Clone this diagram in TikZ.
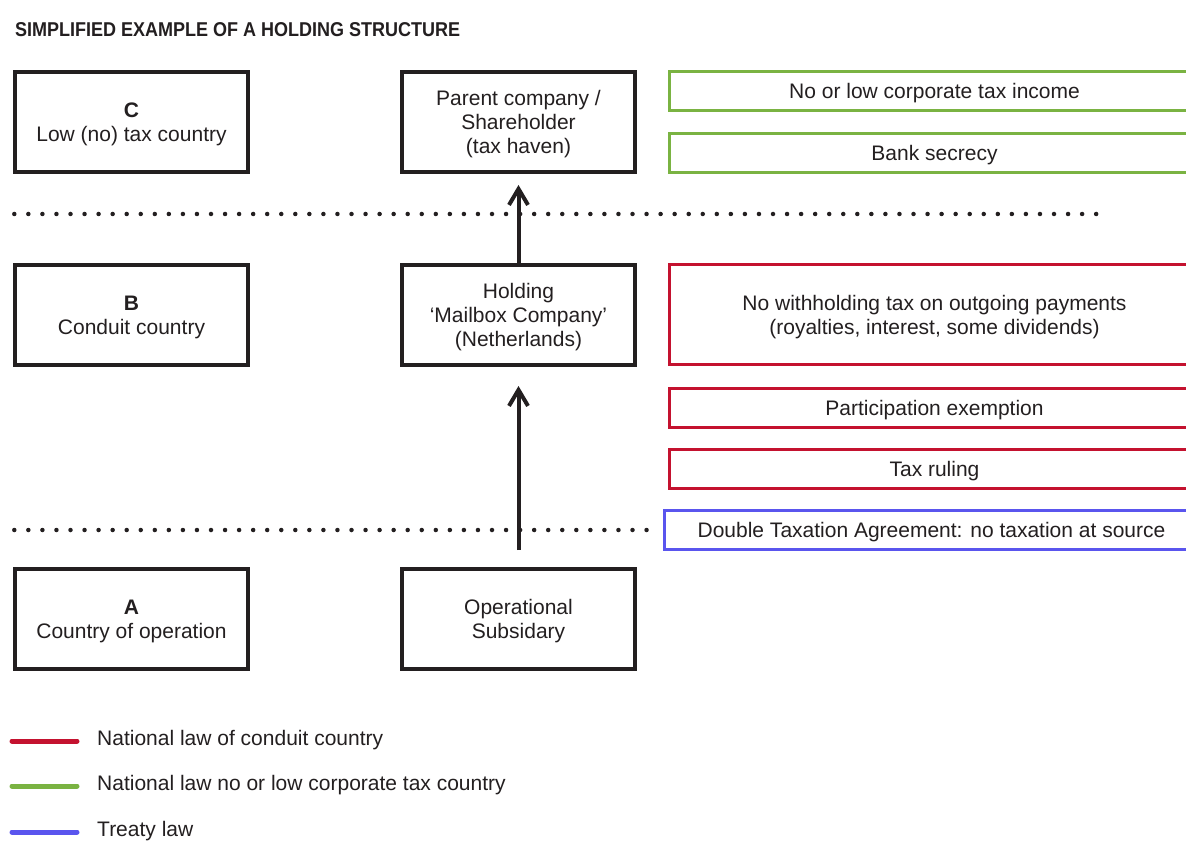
\documentclass[tikz,border=0pt]{standalone}
\usepackage{fontspec}
\setmainfont{Liberation Sans}
\newfontfamily\titlefont{Liberation Sans}[FakeStretch=0.9]
\usetikzlibrary{arrows.meta}
\definecolor{ink}{HTML}{231F20}
\definecolor{conduit}{HTML}{C4122F}
\definecolor{lowtax}{HTML}{7AB342}
\definecolor{treaty}{HTML}{5A55EE}
\tikzset{
  entity/.style={
    draw=ink,
    line width=4pt,
    minimum width=233pt,
    minimum height=100pt,
    inner sep=0pt,
    text depth=-3pt,
    align=center,
    text=ink,
    font=\fontsize{21}{24}\selectfont
  },
  law/.style={
    line width=3pt,
    minimum width=530pt,
    minimum height=39pt,
    inner sep=0pt,
    text depth=-3pt,
    align=center,
    text=ink,
    font=\fontsize{21}{24}\selectfont
  },
  flow/.style={draw=ink, line width=4pt, -{Straight Barb[length=16pt,width=19pt,line width=4pt]}},
  dotrule/.style={draw=ink, line width=4.5pt, line cap=round, dash pattern=on 0pt off 14.05pt},
  key/.style={line width=5pt, line cap=round},
  keytext/.style={anchor=west, inner sep=0pt, text=ink, font=\fontsize{21}{24}\selectfont}
}
\begin{document}
\begin{tikzpicture}[x=1pt,y=-1pt]
  \useasboundingbox[fill=white] (0,0) rectangle (1186,842);
  \clip (0,0) rectangle (1186,842);

  \node[anchor=base west, inner sep=0pt, text=ink, font=\titlefont\bfseries\fontsize{20}{22}\selectfont] (title) at (15,37) {SIMPLIFIED EXAMPLE OF A HOLDING STRUCTURE};

  \node[entity] (C) at (131.5,122) {\textbf{C}\\Low (no) tax country};
  \node[entity] (parent) at (518.5,122) {Parent company /\\Shareholder\\(tax haven)};
  \node[entity] (B) at (131.5,315) {\textbf{B}\\Conduit country};
  \node[entity] (hold) at (518.5,315) {Holding\\‘Mailbox Company’\\(Netherlands)};
  \node[entity] (A) at (131.5,619) {\textbf{A}\\Country of operation};
  \node[entity] (op) at (518.5,619) {Operational\\Subsidary};

  \node[law, draw=lowtax] (income) at (934.5,91) {No or low corporate tax income};
  \node[law, draw=lowtax] (secrecy) at (934.5,153) {Bank secrecy};
  \node[law, draw=conduit, minimum height=99pt] (wht) at (934.5,314.5) {No withholding tax on outgoing payments\\(royalties, interest, some dividends)};
  \node[law, draw=conduit] (partex) at (934.5,407.5) {Participation exemption};
  \node[law, draw=conduit] (ruling) at (934.5,469) {Tax ruling};
  \node[law, draw=treaty, minimum width=534pt] (dta) at (931.5,529.5) {Double Taxation Agreement: no taxation at source};

  \coordinate (r1w) at (14.3,214);
  \coordinate (r1e) at (1105,214);
  \coordinate (r2w) at (14.3,530);
  \coordinate (r2e) at (655,530);
  \draw[dotrule] (r1w) -- (r1e);
  \draw[dotrule] (r2w) -- (r2e);

  \draw[flow, shorten <=17pt, shorten >=19pt] (op) -- (hold);
  \draw[flow, shorten >=11pt] (hold) -- (parent);

  \foreach \y/\c/\t [count=\i] in {741/conduit/National law of conduit country,
      786/lowtax/National law no or low corporate tax country,
      832/treaty/Treaty law}{
    \coordinate (kw\i) at (12,\y);
    \coordinate (ke\i) at (77,\y);
    \draw[key, draw=\c] (kw\i) -- (ke\i);
    \node[keytext] (kt\i) at (97,\y-1) {\t};
  }
\end{tikzpicture}
\end{document}
